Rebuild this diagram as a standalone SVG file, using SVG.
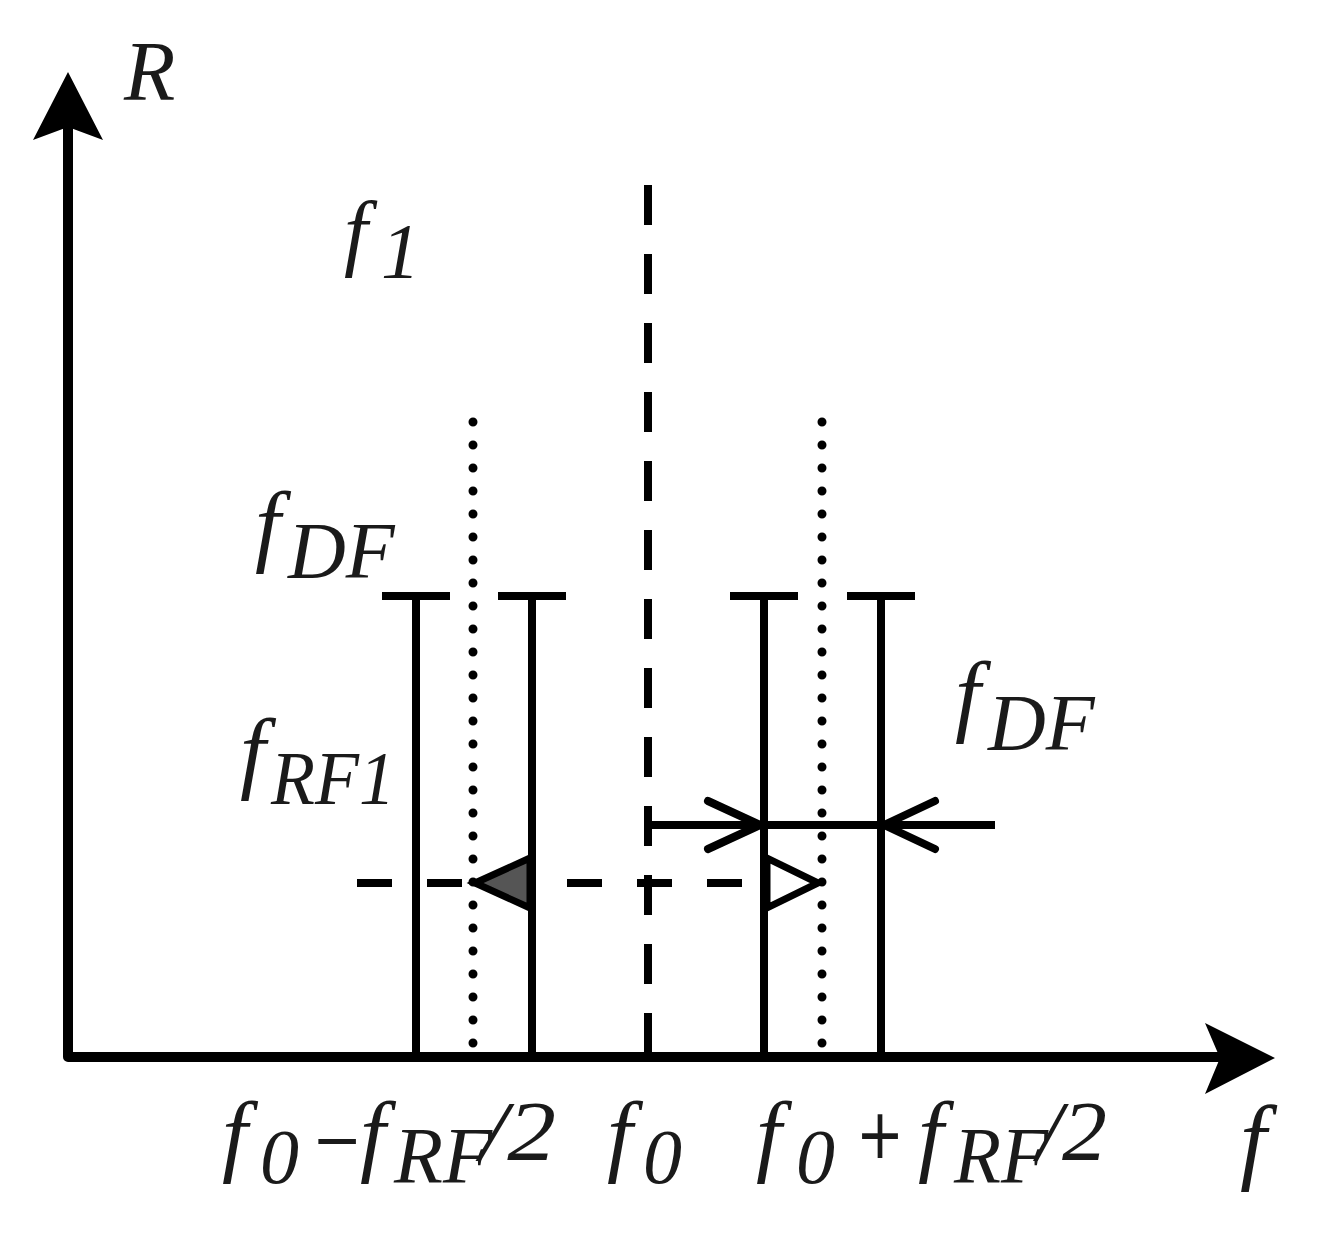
<svg xmlns="http://www.w3.org/2000/svg" width="1322" height="1236" viewBox="0 0 1322 1236">
<style>
.ln{stroke:#000;stroke-width:8;fill:none;stroke-linecap:butt}
.ax{stroke:#000;stroke-width:10;fill:none;stroke-linejoin:round}
.dot{stroke:#000;stroke-width:9;fill:none;stroke-linecap:round;stroke-dasharray:0 23}
.dash{stroke:#000;stroke-width:8;fill:none}
.t{font-family:"Liberation Serif","Times New Roman",serif;font-style:italic;fill:#1a1a1a}
.op{font-family:"DejaVu Sans",sans-serif;fill:#1a1a1a}
</style>
<rect width="1322" height="1236" fill="#fff"/>
<g id="axes">
<path class="ax" d="M68,125 L68,1057 L1225,1057"/>
<polygon points="68,72 103,140 68,127 33,140" fill="#000"/>
<polygon points="1275,1058 1205,1023 1220,1058 1205,1094" fill="#000"/>
</g>
<g id="connectors">
<line class="dash" x1="648" y1="185" x2="648" y2="1057" style="stroke-dasharray:40 29"/>
<line class="dot" x1="473" y1="422" x2="473" y2="1057"/>
<line class="dot" x1="822" y1="422" x2="822" y2="1057"/>
<line class="dash" x1="357" y1="883" x2="812" y2="883" style="stroke-dasharray:35 35"/>
<polygon points="475,883 530,858 530,908" fill="#555" stroke="#000" stroke-width="7" stroke-linejoin="miter"/>
<polygon points="818,883 767,858 767,908" fill="#fff" stroke="#000" stroke-width="7" stroke-linejoin="miter"/>
<line class="ln" x1="648" y1="825" x2="995" y2="825"/>
<polyline class="ln" points="708,801 760,825 708,849" style="stroke-linecap:round;stroke-linejoin:round"/>
<polyline class="ln" points="935,801 884,825 935,849" style="stroke-linecap:round;stroke-linejoin:round"/>
</g>
<g id="bar1"><path class="ln" d="M382,596 H450 M416,596 V1057"/></g>
<g id="bar2"><path class="ln" d="M498,596 H566 M532,596 V1057"/></g>
<g id="bar3"><path class="ln" d="M730,596 H798 M764,596 V1057"/></g>
<g id="bar4"><path class="ln" d="M847,596 H915 M881,596 V1057"/></g>
<g id="labels">
<text class="t" x="124" y="100" font-size="84">R</text>
<text class="t" x="344" y="260" font-size="85">f</text>
<text class="t" x="381" y="277" font-size="78">1</text>
<text class="t" x="255" y="555" font-size="92">f</text>
<text class="t" x="288" y="578" font-size="80">DF</text>
<text class="t" x="240" y="782" font-size="92">f</text>
<text class="t" x="271" y="804" font-size="76" textLength="124" lengthAdjust="spacingAndGlyphs">RF1</text>
<text class="t" x="955" y="725" font-size="92">f</text>
<text class="t" x="988" y="750" font-size="80">DF</text>
<text class="t" x="222" y="1165" font-size="92">f</text>
<text class="t" x="260" y="1183" font-size="78">0</text>
<text class="op" x="312" y="1160" font-size="60">−</text>
<text class="t" x="360" y="1165" font-size="92">f</text>
<text class="t" x="394" y="1183" font-size="80" textLength="98" lengthAdjust="spacingAndGlyphs">RF</text>
<text class="t" x="480" y="1160" font-size="85" textLength="76" lengthAdjust="spacingAndGlyphs">/2</text>
<text class="t" x="607" y="1165" font-size="92">f</text>
<text class="t" x="643" y="1183" font-size="78">0</text>
<text class="t" x="756" y="1165" font-size="92">f</text>
<text class="t" x="796" y="1183" font-size="78">0</text>
<text class="op" x="856" y="1158" font-size="70" textLength="48" lengthAdjust="spacingAndGlyphs">+</text>
<text class="t" x="918" y="1165" font-size="92">f</text>
<text class="t" x="954" y="1183" font-size="80" textLength="94" lengthAdjust="spacingAndGlyphs">RF</text>
<text class="t" x="1037" y="1160" font-size="85" textLength="70" lengthAdjust="spacingAndGlyphs">/2</text>
<text class="t" x="1240" y="1172" font-size="95">f</text>
</g>
</svg>
